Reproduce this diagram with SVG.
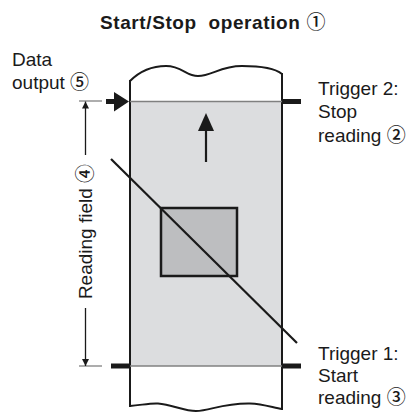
<svg xmlns="http://www.w3.org/2000/svg" width="406" height="412" viewBox="0 0 406 412">
<style>
text{font-family:"Liberation Sans","DejaVu Sans","Noto Sans CJK SC",sans-serif;font-size:19px;fill:#1a1a1a;white-space:pre}
.title{font-weight:bold;font-size:19px;letter-spacing:0.6px}
.c{font-family:"Noto Sans CJK JP","Noto Sans CJK SC",sans-serif;font-weight:500;letter-spacing:0}
.edge{fill:none;stroke:#1a1a1a;stroke-width:2}
.stub{stroke:#1a1a1a;stroke-width:5}
.gline{stroke:#808080;stroke-width:1.5}
.thin{stroke:#1a1a1a;stroke-width:1.3;fill:none}
.tick{stroke:#777;stroke-width:1.2}
</style>
<defs>
<marker id="dimArrow" viewBox="0 0 10 10" refX="10" refY="5" markerWidth="7" markerHeight="7" markerUnits="userSpaceOnUse" orient="auto">
<path d="M0,0 L10,5 L0,10 Z" fill="#1a1a1a"/>
</marker>
</defs>
<text class="title" x="100" y="29" xml:space="preserve">Start/Stop  operation <tspan class="c">①</tspan></text>
<g id="strip">
<rect x="130" y="101.5" width="152" height="264.5" fill="#dcdddf"/>
<path class="edge" d="M130,81 C140,71 152,66 166,66 C182,66 186,76 198,76 C212,76 220,66 242,66 C262,66 276,69 282,74"/>
<path class="edge" d="M130,406 C142,405 150,403 158,403.5 C172,404.5 184,411 196,411 C210,411 222,403 250,403.5 C264,404 274,408 282,409"/>
<line class="edge" x1="130" y1="80" x2="130" y2="407"/>
<line class="edge" x1="282" y1="73" x2="282" y2="410"/>
<line class="gline" x1="130" y1="101.5" x2="282" y2="101.5"/>
<line class="gline" x1="130" y1="366" x2="282" y2="366"/>
</g>
<g id="object">
<rect x="161" y="208" width="76" height="68" fill="#bdbec0" stroke="#1a1a1a" stroke-width="2.5"/>
</g>
<g id="connectors">
<line class="stub" x1="282" y1="101.5" x2="301" y2="101.5"/>
<line class="stub" x1="111" y1="366" x2="130" y2="366"/>
<line class="stub" x1="282" y1="366" x2="301" y2="366"/>
<path d="M106,99 L114,99 L114,92 L129,101.5 L114,111.5 L114,104 L106,104 Z" fill="#1a1a1a"/>
<line x1="206" y1="162" x2="206" y2="128" stroke="#1a1a1a" stroke-width="2.2"/>
<path d="M198,131 L206,113 L214,131 Z" fill="#1a1a1a"/>
<line x1="111" y1="159" x2="297" y2="343" stroke="#1a1a1a" stroke-width="2.2"/>
<line class="tick" x1="79" y1="101" x2="102" y2="101"/>
<line class="tick" x1="79" y1="366" x2="102" y2="366"/>
<line class="thin" x1="85.5" y1="155" x2="85.5" y2="101.5" marker-end="url(#dimArrow)"/>
<line class="thin" x1="85.5" y1="308" x2="85.5" y2="366" marker-end="url(#dimArrow)"/>
</g>
<g id="labels">
<text x="12" y="66">Data</text>
<text x="12" y="89">output <tspan class="c">⑤</tspan></text>
<text x="318" y="95">Trigger 2:</text>
<text x="318" y="118">Stop</text>
<text x="318" y="142">reading <tspan class="c">②</tspan></text>
<text x="318" y="360">Trigger 1:</text>
<text x="318" y="382">Start</text>
<text x="318" y="404">reading <tspan class="c">③</tspan></text>
<text transform="translate(91.5,231.5) rotate(-90)" text-anchor="middle">Reading field <tspan class="c">④</tspan></text>
</g>
</svg>
